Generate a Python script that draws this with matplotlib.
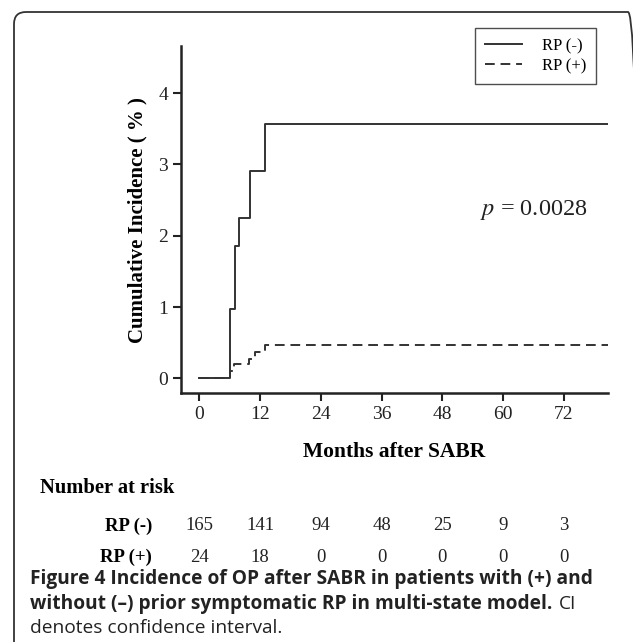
import matplotlib
matplotlib.use("Agg")
import matplotlib.pyplot as plt
from matplotlib.patches import FancyBboxPatch

# step data (months, cumulative incidence %)
t_neg = [0, 6, 7, 7.8, 10, 13, 80.8]
ci_neg = [0, 0.97, 1.85, 2.25, 2.91, 3.57, 3.57]
t_pos = [0, 6, 6.8, 9.8, 11, 13, 80.8]
ci_pos = [0, 0.10, 0.20, 0.27, 0.37, 0.47, 0.47]

xticks = [0, 12, 24, 36, 48, 60, 72]
yticks = [0, 1, 2, 3, 4]
risk_neg = [165, 141, 94, 48, 25, 9, 3]
risk_pos = [24, 18, 0, 0, 0, 0, 0]

W, H = 633, 642
SERIF = "Liberation Serif"
SANS = "Open Sans"
LC = "#333333"

plt.rcParams["mathtext.fontset"] = "stix"

fig = plt.figure(figsize=(W / 100, H / 100), dpi=100)

def fy(y):
    # pixel row from top -> figure fraction
    return 1 - y / H

def fx(x):
    return x / W

# rounded frame around the whole panel
frame = FancyBboxPatch((14, -40), 640 - 14, (H - 12) + 40,
                       boxstyle="round,pad=0,rounding_size=12",
                       transform=None, fill=False, ec="#333333", lw=1.3)
fig.patches.append(frame)

ax = fig.add_axes([fx(180.7), fy(393.3), fx(608.3) - fx(180.7), fy(46) - fy(393.3)])
ax.step(t_neg, ci_neg, where="post", color=LC, lw=1.4, label="RP (-)")
ax.step(t_pos, ci_pos, where="post", color=LC, lw=1.4, ls=(0, (5, 3)), label="RP (+)")

ax.set_xlim(-3.7, 80.8)
ax.set_ylim(-0.21, 4.66)
ax.set_xticks(xticks)
ax.set_yticks(yticks)
for s in ["top", "right"]:
    ax.spines[s].set_visible(False)
for s in ["left", "bottom"]:
    ax.spines[s].set_linewidth(1.8)
    ax.spines[s].set_color("#222222")
ax.tick_params(length=6, width=1.5, color="#222222", labelsize=14, pad=3)
for lab in ax.get_xticklabels() + ax.get_yticklabels():
    lab.set_fontfamily(SERIF)
    lab.set_color("#222222")

ax.set_xlabel("Months after SABR", fontfamily=SERIF, fontweight="bold", fontsize=15.5, labelpad=14)
ax.set_ylabel("Cumulative Incidence ( % )", fontfamily=SERIF, fontweight="bold", fontsize=15,
              labelpad=8)

ax.text(55.4, 2.36, r"$p$ = 0.0028", fontfamily=SERIF, fontsize=17.5, va="center", ha="left",
        color="#222222")

leg = fig.legend(loc="upper right", bbox_to_anchor=(fx(596), fy(28)), frameon=True,
                 fancybox=False, prop={"family": SERIF, "size": 12}, handlelength=2.2,
                 borderpad=0.6, labelspacing=0.25, handletextpad=1.2, borderaxespad=0)
leg.get_frame().set_edgecolor("#222222")
leg.get_frame().set_linewidth(1.0)

# number at risk table
fig.text(fx(40), fy(488), "Number at risk", fontfamily=SERIF, fontweight="bold", fontsize=14.8,
         va="center", ha="left")
row_y = [526, 557]
for name, vals, y in [("RP (-)", risk_neg, row_y[0]), ("RP (+)", risk_pos, row_y[1])]:
    fig.text(fx(152), fy(y), name, fontfamily=SERIF, fontweight="bold", fontsize=13.5,
             va="center", ha="right")
    for t, v in zip(xticks, vals):
        xd = ax.transData.transform((t, 0))[0]
        fig.text(xd / W, fy(y), str(v), fontfamily=SERIF, fontsize=13.5, va="center", ha="center",
                 color="#222222")

# caption
r = fig.canvas.get_renderer()
cap_kw = dict(fontfamily=SANS, fontsize=13.8, va="center", ha="left", color="#222222")
fig.text(fx(30), fy(579), "Figure 4 Incidence of OP after SABR in patients with (+) and",
         fontweight="bold", **cap_kw)
t2 = fig.text(fx(30), fy(604), "without (\u2013) prior symptomatic RP in multi-state model.",
              fontweight="bold", **cap_kw)
bb = t2.get_window_extent(renderer=r)
fig.text((bb.x1 + 6) / W, fy(604), "CI", fontweight="normal", **cap_kw)
fig.text(fx(30), fy(628), "denotes confidence interval.", fontweight="normal", **cap_kw)

fig.savefig("out.png", dpi=100)
